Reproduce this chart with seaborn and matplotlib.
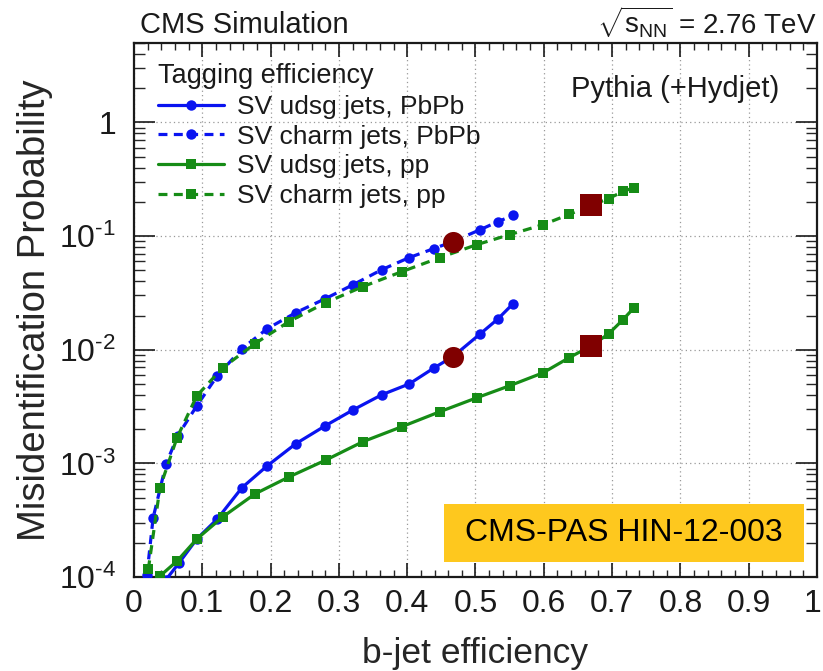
import matplotlib
matplotlib.use("Agg")
import matplotlib.pyplot as plt
from matplotlib.patches import Rectangle
from matplotlib.transforms import ScaledTranslation
from matplotlib.ticker import FixedLocator, FixedFormatter, LogLocator, NullFormatter, MultipleLocator
import seaborn as sns
import pandas as pd
import numpy as np

# b-jet efficiency working points
x_pbpb_udsg = [0.047, 0.066, 0.092, 0.122, 0.158, 0.195, 0.237, 0.280, 0.321,
               0.363, 0.403, 0.439, 0.467, 0.507, 0.533, 0.555]
y_pbpb_udsg = [9.5e-5, 1.33e-4, 2.16e-4, 3.24e-4, 6.1e-4, 9.5e-4, 1.49e-3, 2.14e-3,
               2.96e-3, 4.02e-3, 5.0e-3, 6.9e-3, 8.7e-3, 1.38e-2, 1.87e-2, 2.54e-2]

x_pbpb_charm = [0.019, 0.028, 0.047, 0.064, 0.092, 0.122, 0.158, 0.195, 0.237,
                0.280, 0.321, 0.363, 0.403, 0.439, 0.467, 0.507, 0.533, 0.555]
y_pbpb_charm = [1.05e-4, 3.31e-4, 9.9e-4, 1.75e-3, 3.21e-3, 5.9e-3, 1.02e-2, 1.53e-2,
                2.12e-2, 2.81e-2, 3.74e-2, 5.07e-2, 6.47e-2, 7.76e-2, 8.95e-2, 0.114,
                0.134, 0.152]

x_pp_udsg = [0.038, 0.063, 0.092, 0.130, 0.177, 0.227, 0.281, 0.335, 0.392, 0.448,
             0.502, 0.550, 0.599, 0.637, 0.669, 0.695, 0.716, 0.732]
y_pp_udsg = [1.02e-4, 1.38e-4, 2.16e-4, 3.38e-4, 5.38e-4, 7.6e-4, 1.07e-3, 1.55e-3,
             2.1e-3, 2.85e-3, 3.78e-3, 4.82e-3, 6.27e-3, 8.5e-3, 1.08e-2, 1.38e-2,
             1.84e-2, 2.34e-2]

x_pp_charm = [0.021, 0.038, 0.063, 0.092, 0.130, 0.177, 0.227, 0.281, 0.335, 0.392,
              0.448, 0.502, 0.550, 0.599, 0.637, 0.669, 0.695, 0.716, 0.732]
y_pp_charm = [1.17e-4, 6.1e-4, 1.68e-3, 3.93e-3, 6.94e-3, 1.13e-2, 1.77e-2, 2.6e-2,
              3.59e-2, 4.86e-2, 6.47e-2, 8.41e-2, 0.103, 0.126, 0.155, 0.186, 0.214,
              0.247, 0.267]

# highlighted operating points
x_wp_pbpb = [0.467, 0.467]
y_wp_pbpb = [8.95e-2, 8.67e-3]
x_wp_pp = [0.669, 0.669]
y_wp_pp = [0.186, 1.08e-2]

labels = ["SV udsg jets, PbPb", "SV charm jets, PbPb", "SV udsg jets, pp", "SV charm jets, pp"]
x_ticks = [0, 0.1, 0.2, 0.3, 0.4, 0.5, 0.6, 0.7, 0.8, 0.9, 1.0]
x_tick_labels = ["0", "0.1", "0.2", "0.3", "0.4", "0.5", "0.6", "0.7", "0.8", "0.9", "1"]
y_ticks = [1e-4, 1e-3, 1e-2, 1e-1, 1]
y_tick_labels = [r"$10^{\text{-}4}$", r"$10^{\text{-}3}$", r"$10^{\text{-}2}$",
                 r"$10^{\text{-}1}$", "1"]

sns.set_style("ticks")
plt.rcParams["font.family"] = ["Liberation Sans", "DejaVu Sans"]
plt.rcParams["mathtext.fontset"] = "custom"
plt.rcParams["mathtext.rm"] = "Liberation Sans"
plt.rcParams["mathtext.it"] = "Liberation Sans:italic"
plt.rcParams["text.color"] = "#1a1a1a"

blue = "#0a14f0"
green = "#168c16"
dark_red = "#800000"
dash = (0, (2.8, 2.0))

fig = plt.figure(figsize=(8.23, 6.71), dpi=100)
ax = fig.add_axes([0.1628, 0.1401, 0.8299, 0.7958])

series = [
    (x_pbpb_udsg, y_pbpb_udsg, blue, "o", "-", labels[0]),
    (x_pbpb_charm, y_pbpb_charm, blue, "o", dash, labels[1]),
    (x_pp_udsg, y_pp_udsg, green, "s", "-", labels[2]),
    (x_pp_charm, y_pp_charm, green, "s", dash, labels[3]),
]
handles = []
for xs, ys, col, mk, ls, lab in series:
    df = pd.DataFrame({"eff": xs, "mis": ys})
    sns.lineplot(data=df, x="eff", y="mis", ax=ax, color=col, marker=mk,
                 markersize=7.5, markeredgewidth=0, linewidth=2.3,
                 linestyle=ls, sort=False, estimator=None, label=lab, zorder=3)
    handles.append(ax.lines[-1])

ax.scatter(x_wp_pbpb, y_wp_pbpb, s=230, marker="o", color=dark_red, zorder=5, linewidths=0)
ax.scatter(x_wp_pp, y_wp_pp, s=250, marker="s", color=dark_red, zorder=5, linewidths=0)

ax.set_yscale("log")
ax.set_xlim(0, 1)
ax.set_ylim(1e-4, 5)

ax.xaxis.set_major_locator(FixedLocator(x_ticks))
ax.xaxis.set_major_formatter(FixedFormatter(x_tick_labels))
ax.xaxis.set_minor_locator(MultipleLocator(0.02))
ax.yaxis.set_major_locator(FixedLocator(y_ticks))
ax.yaxis.set_major_formatter(FixedFormatter(y_tick_labels))
ax.yaxis.set_minor_locator(LogLocator(base=10, subs=np.arange(2, 10), numticks=20))
ax.yaxis.set_minor_formatter(NullFormatter())

ax.tick_params(axis="x", which="major", direction="in", length=10, width=1.2,
               top=True, labelsize=23, pad=9, colors="#1a1a1a")
ax.tick_params(axis="x", which="minor", direction="in", length=5, width=1.0, top=True)
ax.tick_params(axis="y", which="major", direction="in", length=15, width=1.2,
               right=True, labelsize=23, pad=13, colors="#1a1a1a")
ax.tick_params(axis="y", which="minor", direction="in", length=8, width=1.0, right=True)

# nudge the "1" at the right edge so it stays inside the picture
last_tick = ax.xaxis.get_major_ticks()[-1]
last_tick.label1.set_transform(last_tick.label1.get_transform()
                               + ScaledTranslation(-3 / 72, 0, fig.dpi_scale_trans))

ax.grid(True, which="major", linestyle=(0, (1, 2.5)), color="#999999", linewidth=0.9)
for sp in ax.spines.values():
    sp.set_linewidth(1.6)
    sp.set_color("#1a1a1a")

ax.set_xlabel("b-jet efficiency", fontsize=25.5)
ax.set_ylabel("Misidentification Probability", fontsize=27.5)
ax.xaxis.set_label_coords(0.5, -0.112)
ax.yaxis.set_label_coords(-0.118, 0.5)

leg = ax.legend(handles=handles, labels=labels, title="Tagging efficiency",
                loc="upper left", bbox_to_anchor=(158 / 823, 1 - 63 / 671),
                bbox_transform=fig.transFigure, frameon=False, fontsize=19,
                title_fontsize=19.5, handlelength=2.5, handletextpad=0.5,
                labelspacing=0.22, borderpad=0, borderaxespad=0, numpoints=1,
                alignment="left")

fig.text(140 / 823, 1 - 33 / 671, "CMS Simulation", fontsize=21, ha="left", va="baseline")
fig.text(817 / 823, 1 - 33 / 671, r"$\sqrt{\mathrm{s}_{\mathrm{NN}}}$ = 2.76 TeV", fontsize=20,
         ha="right", va="baseline")
fig.text(675 / 823, 1 - 89 / 671, "Pythia (+Hydjet)", fontsize=21, ha="center", va="center")

box = Rectangle((444 / 823, 1 - 562 / 671), 360 / 823, 58 / 671, transform=fig.transFigure,
                facecolor="#fec81e", edgecolor="none", zorder=10)
fig.patches.append(box)
fig.text(624 / 823, 1 - 533 / 671, "CMS-PAS HIN-12-003", fontsize=23, ha="center",
         va="center", color="black", zorder=11)

fig.savefig("out.png", dpi=100)
